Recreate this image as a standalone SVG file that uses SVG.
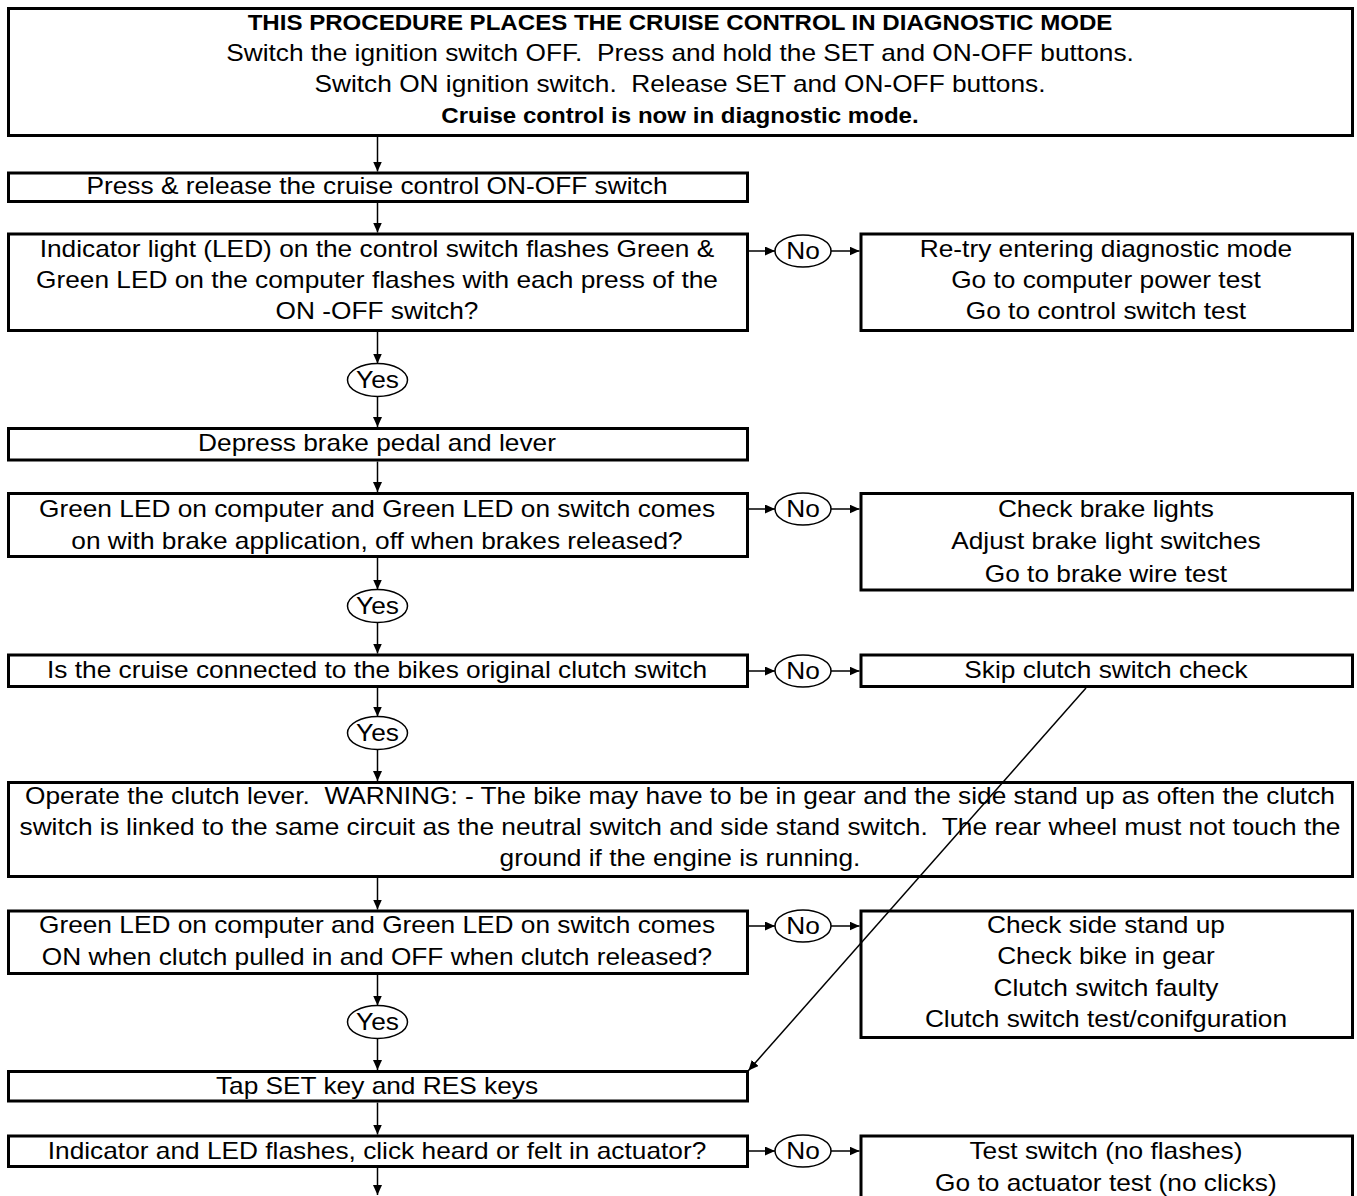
<svg xmlns="http://www.w3.org/2000/svg" width="1357" height="1196" viewBox="0 0 1357 1196">
<style>
.box{fill:#fff;stroke:#000;stroke-width:3}
.oval{fill:#fff;stroke:#000;stroke-width:1.5}
text{font-family:"Liberation Sans",Arial,sans-serif;font-size:24px;text-anchor:middle;fill:#000}
.b{font-weight:bold;font-size:22px}
.pre{white-space:pre}
#connectors line{stroke:#000;stroke-width:1.5;fill:none}
</style>
<defs>
<marker id="ah" markerUnits="userSpaceOnUse" markerWidth="10" markerHeight="9" refX="10" refY="4.5" orient="auto">
<path d="M0,0 L10,4.5 L0,9 z" fill="#000"/>
</marker>
</defs>
<rect width="1357" height="1196" fill="#fff"/>

<g id="n0">
<rect class="box" x="8.5" y="8.5" width="1344" height="127"/>
<g transform="scale(1.095 1)">
<text class="b" x="621" y="30">THIS PROCEDURE PLACES THE CRUISE CONTROL IN DIAGNOSTIC MODE</text>
<text class="pre" x="621" y="61">Switch the ignition switch OFF.  Press and hold the SET and ON-OFF buttons.</text>
<text class="pre" x="621" y="92">Switch ON ignition switch.  Release SET and ON-OFF buttons.</text>
<text class="b" x="621" y="123">Cruise control is now in diagnostic mode.</text>
</g>
</g>

<g id="n1">
<rect class="box" x="8.5" y="173" width="739" height="28.5"/>
<g transform="scale(1.095 1)"><text x="344.3" y="194">Press &amp; release the cruise control ON-OFF switch</text></g>
</g>

<g id="n2">
<rect class="box" x="8.5" y="234" width="739" height="96.5"/>
<g transform="scale(1.095 1)">
<text x="344.3" y="257">Indicator light (LED) on the control switch flashes Green &amp;</text>
<text x="344.3" y="288">Green LED on the computer flashes with each press of the</text>
<text x="344.3" y="319">ON -OFF switch?</text>
</g>
</g>

<g id="r1">
<rect class="box" x="861" y="234" width="491.5" height="96.5"/>
<g transform="scale(1.095 1)">
<text x="1010" y="257">Re-try entering diagnostic mode</text>
<text x="1010" y="288">Go to computer power test</text>
<text x="1010" y="319">Go to control switch test</text>
</g>
</g>

<g id="n3">
<rect class="box" x="8.5" y="428.5" width="739" height="31.5"/>
<g transform="scale(1.095 1)"><text x="344.3" y="451.5">Depress brake pedal and lever</text></g>
</g>

<g id="n4">
<rect class="box" x="8.5" y="493.5" width="739" height="63"/>
<g transform="scale(1.095 1)">
<text x="344.3" y="517.5">Green LED on computer and Green LED on switch comes</text>
<text x="344.3" y="549">on with brake application, off when brakes released?</text>
</g>
</g>

<g id="r2">
<rect class="box" x="861" y="493.5" width="491.5" height="96.5"/>
<g transform="scale(1.095 1)">
<text x="1010" y="517.5">Check brake lights</text>
<text x="1010" y="549.5">Adjust brake light switches</text>
<text x="1010" y="582">Go to brake wire test</text>
</g>
</g>

<g id="n5">
<rect class="box" x="8.5" y="655" width="739" height="31.5"/>
<g transform="scale(1.095 1)"><text x="344.3" y="678">Is the cruise connected to the bikes original clutch switch</text></g>
</g>

<g id="r3">
<rect class="box" x="861" y="655" width="491.5" height="31.5"/>
<g transform="scale(1.095 1)"><text x="1010" y="678">Skip clutch switch check</text></g>
</g>

<g id="n6">
<rect class="box" x="8.5" y="782.5" width="1344" height="94"/>
<g transform="scale(1.095 1)">
<text class="pre" x="621" y="804.5">Operate the clutch lever.  WARNING: - The bike may have to be in gear and the side stand up as often the clutch</text>
<text class="pre" x="621" y="835.5">switch is linked to the same circuit as the neutral switch and side stand switch.  The rear wheel must not touch the</text>
<text x="621" y="866.5">ground if the engine is running.</text>
</g>
</g>

<g id="n7">
<rect class="box" x="8.5" y="911" width="739" height="62.5"/>
<g transform="scale(1.095 1)">
<text x="344.3" y="933.5">Green LED on computer and Green LED on switch comes</text>
<text x="344.3" y="965">ON when clutch pulled in and OFF when clutch released?</text>
</g>
</g>

<g id="r4">
<rect class="box" x="861" y="911" width="491.5" height="126.5"/>
<g transform="scale(1.095 1)">
<text x="1010" y="933">Check side stand up</text>
<text x="1010" y="964.5">Check bike in gear</text>
<text x="1010" y="996">Clutch switch faulty</text>
<text x="1010" y="1027.5">Clutch switch test/conifguration</text>
</g>
</g>

<g id="n8">
<rect class="box" x="8.5" y="1071.5" width="739" height="29.5"/>
<g transform="scale(1.095 1)"><text x="344.3" y="1094">Tap SET key and RES keys</text></g>
</g>

<g id="n9">
<rect class="box" x="8.5" y="1136" width="739" height="30.5"/>
<g transform="scale(1.095 1)"><text x="344.3" y="1159.5">Indicator and LED flashes, click heard or felt in actuator?</text></g>
</g>

<g id="r5">
<rect class="box" x="861" y="1136" width="491.5" height="120"/>
<g transform="scale(1.095 1)">
<text x="1010" y="1159.5">Test switch (no flashes)</text>
<text x="1010" y="1191">Go to actuator test (no clicks)</text>
</g>
</g>

<g id="no1"><ellipse class="oval" cx="803" cy="251" rx="28" ry="16"/><g transform="scale(1.095 1)"><text x="733.3" y="259.5">No</text></g></g>
<g id="no2"><ellipse class="oval" cx="803" cy="509" rx="28" ry="16"/><g transform="scale(1.095 1)"><text x="733.3" y="517.5">No</text></g></g>
<g id="no3"><ellipse class="oval" cx="803" cy="671" rx="28" ry="16"/><g transform="scale(1.095 1)"><text x="733.3" y="679.5">No</text></g></g>
<g id="no4"><ellipse class="oval" cx="803" cy="926" rx="28" ry="16"/><g transform="scale(1.095 1)"><text x="733.3" y="934.5">No</text></g></g>
<g id="no5"><ellipse class="oval" cx="803" cy="1151" rx="28" ry="16"/><g transform="scale(1.095 1)"><text x="733.3" y="1159.5">No</text></g></g>

<g id="yes1"><ellipse class="oval" cx="377.5" cy="380" rx="30" ry="16.5"/><g transform="scale(1.095 1)"><text x="344.75" y="388.5">Yes</text></g></g>
<g id="yes2"><ellipse class="oval" cx="377.5" cy="606" rx="30" ry="16.5"/><g transform="scale(1.095 1)"><text x="344.75" y="614.5">Yes</text></g></g>
<g id="yes3"><ellipse class="oval" cx="377.5" cy="733" rx="30" ry="16.5"/><g transform="scale(1.095 1)"><text x="344.75" y="741.5">Yes</text></g></g>
<g id="yes4"><ellipse class="oval" cx="377.5" cy="1022" rx="30" ry="16.5"/><g transform="scale(1.095 1)"><text x="344.75" y="1030.5">Yes</text></g></g>

<g id="connectors">
<line x1="377.5" y1="135.5" x2="377.5" y2="171.5" marker-end="url(#ah)"/>
<line x1="377.5" y1="203" x2="377.5" y2="232.5" marker-end="url(#ah)"/>
<line x1="377.5" y1="332" x2="377.5" y2="363.5" marker-end="url(#ah)"/>
<line x1="377.5" y1="396.5" x2="377.5" y2="427" marker-end="url(#ah)"/>
<line x1="377.5" y1="461.5" x2="377.5" y2="492" marker-end="url(#ah)"/>
<line x1="377.5" y1="558" x2="377.5" y2="589.5" marker-end="url(#ah)"/>
<line x1="377.5" y1="622.5" x2="377.5" y2="653.5" marker-end="url(#ah)"/>
<line x1="377.5" y1="688" x2="377.5" y2="716.5" marker-end="url(#ah)"/>
<line x1="377.5" y1="749.5" x2="377.5" y2="781" marker-end="url(#ah)"/>
<line x1="377.5" y1="878" x2="377.5" y2="909.5" marker-end="url(#ah)"/>
<line x1="377.5" y1="975" x2="377.5" y2="1005.5" marker-end="url(#ah)"/>
<line x1="377.5" y1="1038.5" x2="377.5" y2="1070" marker-end="url(#ah)"/>
<line x1="377.5" y1="1102.5" x2="377.5" y2="1134.5" marker-end="url(#ah)"/>
<line x1="377.5" y1="1168" x2="377.5" y2="1195" marker-end="url(#ah)"/>
<line x1="749" y1="251" x2="775" y2="251" marker-end="url(#ah)"/>
<line x1="831" y1="251" x2="859.5" y2="251" marker-end="url(#ah)"/>
<line x1="749" y1="509" x2="775" y2="509" marker-end="url(#ah)"/>
<line x1="831" y1="509" x2="859.5" y2="509" marker-end="url(#ah)"/>
<line x1="749" y1="671" x2="775" y2="671" marker-end="url(#ah)"/>
<line x1="831" y1="671" x2="859.5" y2="671" marker-end="url(#ah)"/>
<line x1="749" y1="926" x2="775" y2="926" marker-end="url(#ah)"/>
<line x1="831" y1="926" x2="859.5" y2="926" marker-end="url(#ah)"/>
<line x1="749" y1="1151" x2="775" y2="1151" marker-end="url(#ah)"/>
<line x1="831" y1="1151" x2="859.5" y2="1151" marker-end="url(#ah)"/>
<line x1="1086" y1="688" x2="748.5" y2="1070.5" marker-end="url(#ah)"/>
</g>
</svg>
